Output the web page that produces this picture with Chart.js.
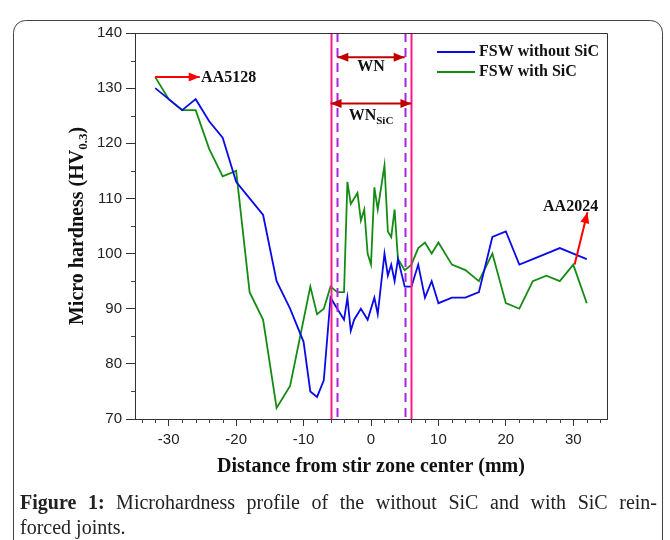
<!DOCTYPE html>
<html>
<head>
<meta charset="utf-8">
<script src="https://cdn.jsdelivr.net/npm/chart.js@4.4.1/dist/chart.umd.min.js"></script>
<style>
  body { margin: 0; background: #fff; }
  canvas { display: block; }
</style>
</head>
<body>
<canvas id="hardness" width="670" height="540"></canvas>
<script>
// distance from stir zone center (mm) and hardness (HV0.3)
const withoutSicX = [-32, -30, -28, -26, -24, -22, -20, -18, -16, -14, -12, -10, -9, -8, -7, -6, -5, -4, -3.5, -3, -2.5, -1.5, -1, -0.5, 0.5, 1, 2, 2.5, 3, 3.5, 4, 5, 6, 7, 8, 9, 10, 12, 14, 16, 18, 20, 22, 24, 26, 28, 30, 32];
const withoutSicY = [130, 128, 126, 128, 124, 121, 113, 110, 107, 95, 90, 84, 75, 74, 77, 92, 90, 88, 92, 86, 88, 90, 89, 88, 92, 89, 100, 96, 98, 95, 99, 94, 94, 98, 92, 95, 91, 92, 92, 93, 103, 104, 98, 99, 100, 101, 100, 99];

const withSicX = [-32, -30, -28, -26, -24, -22, -20, -18, -16, -14, -12, -9, -8, -7, -6, -5, -4, -3.5, -3, -2, -1.5, -1, -0.5, 0, 0.5, 1, 2, 2.5, 3, 3.5, 4, 5, 6, 7, 8, 9, 10, 12, 14, 16, 18, 20, 22, 24, 26, 28, 30, 32];
const withSicY = [132, 128, 126, 126, 119, 114, 115, 93, 88, 72, 76, 94, 89, 90, 94, 93, 93, 113, 109, 111, 106, 108, 100, 98, 112, 108, 116, 104, 103, 108, 99, 97, 98, 101, 102, 100, 102, 98, 97, 95, 100, 91, 90, 95, 96, 95, 98, 91];

const seriesNames = ["FSW without SiC", "FSW with SiC"];
const xTickValues = [-30, -20, -10, 0, 10, 20, 30];

// zone boundaries
const snLines = [-6, 6];   // solid pink
const wnLines = [-5, 5];   // dashed purple

// annotation anchors in data units
const aa5128Arrow = [[-32, 132], [-25.4, 132]];
const aa2024Arrow = [[30.2, 98], [32.1, 107.5]];
const wnArrow = [[-5, 135.6], [5, 135.6]];
const wnSicArrow = [[-6, 127.2], [6, 127.2]];

const toPoints = (xs, ys) => xs.map((x, i) => ({ x: x, y: ys[i] }));

const arrowHead = (ctx, x1, y1, x2, y2, len, half) => {
    const a = Math.atan2(y2 - y1, x2 - x1);
    ctx.beginPath();
    ctx.moveTo(x2, y2);
    ctx.lineTo(x2 - len * Math.cos(a) + half * Math.sin(a), y2 - len * Math.sin(a) - half * Math.cos(a));
    ctx.lineTo(x2 - len * Math.cos(a) - half * Math.sin(a), y2 - len * Math.sin(a) + half * Math.cos(a));
    ctx.closePath();
    ctx.fill();
}

const drawArrow = (ctx, p1, p2, color, both) => {
    ctx.save();
    ctx.strokeStyle = color;
    ctx.fillStyle = color;
    ctx.lineWidth = 2;
    ctx.beginPath();
    ctx.moveTo(p1[0], p1[1]);
    ctx.lineTo(p2[0], p2[1]);
    ctx.stroke();
    arrowHead(ctx, p1[0], p1[1], p2[0], p2[1], 11, 4.5);
    if (both) arrowHead(ctx, p2[0], p2[1], p1[0], p1[1], 11, 4.5);
    ctx.restore();
}

const justify = (ctx, parts, x0, x1, y) => {
    // words spread to fill x0..x1
    const words = [];
    parts.forEach(p => p.text.split(" ").forEach(w => { if (w) words.push({ w: w, font: p.font }) }));
    let total = 0;
    words.forEach(o => { ctx.font = o.font; o.width = ctx.measureText(o.w).width; total += o.width; });
    const gap = (x1 - x0 - total) / (words.length - 1);
    let x = x0;
    words.forEach(o => { ctx.font = o.font; ctx.fillText(o.w, x, y); x += o.width + gap; });
}

const overlay = {
    id: "overlay",
    beforeDraw(chart) {
        const ctx = chart.ctx;
        ctx.save();
        ctx.fillStyle = "#fff";
        ctx.fillRect(0, 0, chart.width, chart.height);
        ctx.restore();
    },
    afterDatasetsDraw(chart) {
        const ctx = chart.ctx;
        const xs = chart.scales.x, ys = chart.scales.y;
        const area = chart.chartArea;
        const px = (p) => [xs.getPixelForValue(p[0]), ys.getPixelForValue(p[1])];

        ctx.save();
        // zone lines
        ctx.lineWidth = 2;
        ctx.strokeStyle = "#ff1a8c";
        snLines.forEach(v => {
            const x = Math.round(xs.getPixelForValue(v)) + 0.5;
            ctx.beginPath(); ctx.moveTo(x, area.top); ctx.lineTo(x, area.bottom); ctx.stroke();
        });
        ctx.strokeStyle = "#a726e0";
        ctx.setLineDash([9, 6]);
        wnLines.forEach(v => {
            const x = Math.round(xs.getPixelForValue(v)) + 0.5;
            ctx.beginPath(); ctx.moveTo(x, area.top); ctx.lineTo(x, area.bottom); ctx.stroke();
        });
        ctx.setLineDash([]);

        // box top and right
        ctx.lineWidth = 1;
        ctx.strokeStyle = "#333";
        ctx.beginPath();
        ctx.moveTo(area.left, area.top + 0.5);
        ctx.lineTo(area.right + 0.5, area.top + 0.5);
        ctx.lineTo(area.right + 0.5, area.bottom);
        ctx.stroke();

        // minor ticks
        ctx.strokeStyle = "#444";
        for (let v = -34; v <= 34; v += 2) {
            if (v % 10 === 0) continue;
            const x = Math.round(xs.getPixelForValue(v)) + 0.5;
            ctx.beginPath(); ctx.moveTo(x, area.bottom); ctx.lineTo(x, area.bottom + 4); ctx.stroke();
        }
        for (let v = 75; v < 140; v += 10) {
            const y = Math.round(ys.getPixelForValue(v)) + 0.5;
            ctx.beginPath(); ctx.moveTo(area.left, y); ctx.lineTo(area.left - 4, y); ctx.stroke();
        }

        // arrows
        drawArrow(ctx, px(aa5128Arrow[0]), px(aa5128Arrow[1]), "#ff0000", false);
        drawArrow(ctx, px(aa2024Arrow[0]), px(aa2024Arrow[1]), "#ff0000", false);
        drawArrow(ctx, px(wnArrow[0]), px(wnArrow[1]), "#c00000", true);
        drawArrow(ctx, px(wnSicArrow[0]), px(wnSicArrow[1]), "#c00000", true);

        // annotation text
        const bold = "bold 16px 'Liberation Serif'";
        const sub = "bold 11px 'Liberation Serif'";
        ctx.fillStyle = "#111";
        ctx.textBaseline = "middle";
        ctx.font = bold;
        let p = px([-25.2, 132]);
        ctx.textAlign = "left";
        ctx.fillText("AA5128", p[0], p[1] + 1);
        p = px([29.6, 108.4]);
        ctx.textAlign = "center";
        ctx.fillText("AA2024", p[0], p[1]);
        p = px([0, 133.8]);
        ctx.fillText("WN", p[0], p[1]);
        p = px([0, 125]);
        ctx.textAlign = "left";
        const wnW = ctx.measureText("WN").width;
        ctx.font = sub;
        const sicW = ctx.measureText("SiC").width;
        const sx = p[0] - (wnW + sicW) / 2;
        ctx.font = bold;
        ctx.fillText("WN", sx, p[1]);
        ctx.font = sub;
        ctx.fillText("SiC", sx + wnW, p[1] + 5);

        // legend
        const colors = ["#0a0ae6", "#148c14"];
        ctx.font = bold;
        seriesNames.forEach((name, i) => {
            const y = 52 + i * 20;
            ctx.strokeStyle = colors[i];
            ctx.lineWidth = 2;
            ctx.beginPath(); ctx.moveTo(437, y); ctx.lineTo(475, y); ctx.stroke();
            ctx.fillStyle = "#111";
            ctx.fillText(name, 479, y);
        });
        ctx.restore();
    },
    afterDraw(chart) {
        const ctx = chart.ctx;
        const area = chart.chartArea;
        ctx.save();
        ctx.fillStyle = "#111";
        ctx.textBaseline = "middle";
        ctx.textAlign = "center";
        ctx.font = "bold 20px 'Liberation Serif'";
        ctx.fillText("Distance from stir zone center (mm)", (area.left + area.right) / 2, 467);

        // y title with subscript
        ctx.translate(78, (area.top + area.bottom) / 2);
        ctx.rotate(-Math.PI / 2);
        ctx.textAlign = "left";
        const a = "Micro hardness (HV", b = "0.3", c = ")";
        ctx.font = "bold 20px 'Liberation Serif'";
        const wa = ctx.measureText(a).width, wc = ctx.measureText(c).width;
        ctx.font = "bold 13px 'Liberation Serif'";
        const wb = ctx.measureText(b).width;
        let x = -(wa + wb + wc) / 2;
        ctx.font = "bold 20px 'Liberation Serif'";
        ctx.fillText(a, x, 0);
        ctx.font = "bold 13px 'Liberation Serif'";
        ctx.fillText(b, x + wa, 6);
        ctx.font = "bold 20px 'Liberation Serif'";
        ctx.fillText(c, x + wa + wb, 0);
        ctx.restore();

        // caption
        ctx.save();
        ctx.fillStyle = "#222";
        ctx.textBaseline = "alphabetic";
        justify(ctx, [
            { text: "Figure 1:", font: "bold 20px 'Liberation Serif'" },
            { text: "Microhardness profile of the without SiC and with SiC rein-", font: "20px 'Liberation Serif'" }
        ], 20, 657, 509);
        ctx.font = "20px 'Liberation Serif'";
        ctx.fillText("forced joints.", 20, 534);

        // frame (bottom edge runs past the canvas)
        ctx.strokeStyle = "#444";
        ctx.lineWidth = 1;
        ctx.beginPath();
        ctx.roundRect(13.5, 20.5, 649, 540, 12);
        ctx.stroke();
        ctx.restore();
    }
};

new Chart(document.getElementById("hardness"), {
    type: "line",
    data: {
        datasets: [{
            label: seriesNames[0],
            data: toPoints(withoutSicX, withoutSicY),
            borderColor: "#0a0ae6",
            borderWidth: 1.8,
            pointRadius: 0,
            tension: 0
        }, {
            label: seriesNames[1],
            data: toPoints(withSicX, withSicY),
            borderColor: "#148c14",
            borderWidth: 1.8,
            pointRadius: 0,
            tension: 0
        }]
    },
    options: {
        responsive: false,
        animation: false,
        devicePixelRatio: 1,
        layout: { padding: { top: 33, right: 63, left: 0, bottom: 0 } },
        plugins: {
            legend: { display: false },
            tooltip: { enabled: false }
        },
        scales: {
            x: {
                type: "linear",
                min: -35,
                max: 35,
                afterBuildTicks: (scale) => {
                    scale.ticks = xTickValues.map(v => ({ value: v }));
                },
                afterFit: (scale) => { scale.height = 121; },
                grid: { drawOnChartArea: false, tickLength: 7, tickColor: "#333" },
                border: { color: "#333", width: 1 },
                ticks: { color: "#222", padding: 5, font: { family: "'Liberation Sans', Arial", size: 15 } }
            },
            y: {
                min: 70,
                max: 140,
                ticks: { stepSize: 10, color: "#222", padding: 4, font: { family: "'Liberation Sans', Arial", size: 15 } },
                afterFit: (scale) => { scale.width = 135; },
                grid: { drawOnChartArea: false, tickLength: 9, tickColor: "#333" },
                border: { color: "#333", width: 1 }
            }
        }
    },
    plugins: [overlay]
});
</script>
</body>
</html>
